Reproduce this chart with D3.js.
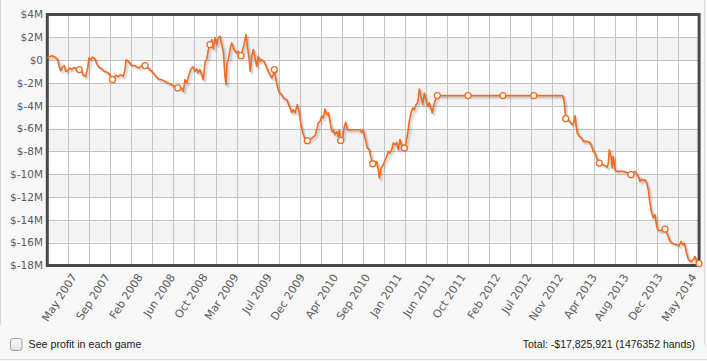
<!DOCTYPE html>
<html><head><meta charset="utf-8">
<script src="https://cdn.jsdelivr.net/npm/d3@7/dist/d3.min.js"></script>
<style>
html,body{margin:0;padding:0;background:#f7f7f7;}
svg{display:block;}
</style></head>
<body><svg id="c" width="707" height="361"></svg>
<script>
// cumulative profit ($M) vs hands played (thousands)
const hands = [0,10.0,17.4,23.6,26.5,30.4,34.0,38.5,41.7,46.2,51.4,55.3,61.2,66.6,72.5,77.9,81.5,87.0,91.5,94.5,98.3,101.9,108.0,111.9,117.1,123.2,129.1,134.5,139.8,142.7,147.6,151.1,156.3,160.8,166.3,172.1,176.0,178.3,183.5,191.2,198.6,206.1,213.8,217.4,221.4,228.8,236.5,243.9,251.4,259.1,266.6,281.8,295.3,304.4,308.0,311.9,315.7,320.9,325.5,330.7,334.5,338.4,342.0,345.9,349.7,353.3,357.2,361.0,364.7,368.5,372.4,376.0,379.8,383.7,387.3,391.2,395.0,398.6,402.5,404.8,407.0,410.0,413.8,417.7,421.3,425.1,429.0,432.6,438.7,441.7,445.5,450.1,453.0,456.9,459.8,463.0,466.6,470.4,474.3,477.9,481.8,485.6,490.8,496.9,502.1,508.3,511.9,514.2,517.3,521.0,525.5,530.9,534.5,542.2,548.1,553.6,557.2,561.0,566.3,570.1,573.9,578.5,583.7,588.9,595.0,601.1,606.3,610.2,613.8,617.7,621.5,625.1,629.0,632.8,636.5,640.3,644.2,647.8,651.6,655.5,659.1,661.4,664.5,669.1,672.7,675.9,679.5,689.5,708.3,712.1,715.7,719.6,724.8,729.3,732.5,737.0,742.2,746.1,749.7,752.0,755.8,761.0,767.2,772.4,776.2,780.1,783.7,787.6,791.4,795.0,798.9,802.7,808.6,812.5,816.3,819.9,823.8,827.6,831.3,835.1,839.0,842.6,846.4,850.3,853.9,857.7,861.6,865.2,872.0,876.6,883.4,953.0,1032.0,1102.0,1167.4,1171.0,1174.2,1180.1,1185.5,1189.1,1193.0,1195.3,1197.5,1200.5,1205.0,1210.4,1214.0,1221.7,1229.2,1233.1,1236.7,1240.5,1244.4,1250.3,1255.7,1263.2,1268.4,1270.7,1273.0,1276.8,1279.7,1282.0,1285.9,1289.7,1304.7,1316.0,1322.1,1327.3,1331.2,1335.0,1338.6,1342.5,1346.3,1349.9,1353.8,1357.6,1361.3,1365.1,1369.0,1372.6,1376.4,1380.3,1383.9,1391.6,1399.1,1402.9,1406.6,1410.4,1417.9,1425.6,1431.5,1435.3,1439.2,1442.8,1448.2,1451.9,1457.3,1463.2,1467.1,1470.9,1476.352];
const profitM = [0.2,0.39,0.28,0.04,-0.46,-0.92,-0.63,-0.48,-0.98,-0.92,-0.68,-0.83,-0.63,-0.81,-0.83,-0.98,-1.33,-1.42,-0.68,0.19,0.04,0.25,0.13,-0.33,-0.63,-0.75,-0.98,-1.04,-1.16,-1.42,-1.71,-1.51,-1.33,-1.45,-1.27,-1.42,-0.83,0.04,-0.11,-0.46,-0.48,-0.68,-0.54,-0.33,-0.48,-0.68,-0.98,-1.33,-1.65,-1.71,-1.86,-2.15,-2.44,-2.44,-2.74,-1.71,-2.0,-1.27,-0.77,-0.60,-0.98,-0.77,-1.12,-0.83,-1.27,-1.71,-0.19,0.04,0.92,1.36,1.80,0.98,1.95,1.36,1.95,2.09,1.36,0.77,-1.42,-2.15,-0.25,0.04,0.92,1.51,1.07,0.77,0.63,0.77,0.39,0.77,1.36,2.24,1.21,0.19,-0.98,0.33,0.92,0.19,-0.54,0.33,-0.11,0.04,-0.11,-0.68,-1.12,-1.56,-1.27,-0.83,-1.56,-2.30,-2.88,-3.03,-3.32,-3.46,-4.05,-4.58,-4.34,-4.63,-3.90,-4.49,-5.51,-6.39,-6.91,-7.06,-6.97,-6.77,-6.62,-6.10,-5.51,-5.37,-4.87,-5.07,-4.28,-4.78,-4.63,-5.37,-6.25,-6.10,-6.54,-6.25,-6.68,-6.10,-7.04,-6.82,-5.81,-5.46,-6.10,-6.10,-6.10,-6.33,-6.10,-6.82,-7.70,-7.85,-8.44,-9.08,-9.02,-8.88,-9.61,-10.33,-9.46,-9.17,-8.58,-8.0,-8.14,-7.85,-7.26,-7.41,-7.21,-7.85,-6.97,-7.50,-7.70,-7.26,-6.39,-5.37,-4.63,-4.19,-4.34,-3.90,-3.75,-2.53,-3.18,-3.90,-2.88,-3.46,-4.05,-3.75,-4.63,-3.75,-3.11,-3.11,-3.11,-3.11,-3.11,-3.75,-5.13,-5.22,-5.46,-5.66,-5.46,-4.87,-5.66,-6.39,-6.68,-6.82,-7.12,-7.12,-7.21,-7.56,-8.0,-8.14,-8.58,-9.02,-9.11,-9.25,-9.37,-9.02,-7.85,-8.44,-9.46,-8.44,-9.61,-9.75,-9.75,-9.89,-10.04,-9.84,-9.75,-9.96,-10.19,-10.63,-10.42,-10.54,-10.48,-10.77,-11.36,-12.53,-13.40,-13.84,-13.55,-14.58,-14.93,-14.93,-14.81,-15.16,-15.46,-15.89,-16.10,-16.18,-16.27,-15.89,-16.18,-16.04,-16.91,-17.46,-17.65,-17.50,-17.21,-17.65,-17.83];
// dated checkpoints (markers) and their labels
const markerHands = [72.5,147.6,221.4,295.3,368.5,438.7,514.2,588.9,664.5,737.0,808.6,883.4,953.0,1032.0,1102.0,1174.2,1250.3,1322.1,1399.1,1476.352];
const markerProfit = [-0.83,-1.71,-0.48,-2.44,1.36,0.39,-0.83,-7.06,-7.04,-9.08,-7.70,-3.11,-3.11,-3.11,-3.11,-5.13,-9.02,-10.04,-14.81,-17.83];
const xLabels = ["May 2007","Sep 2007","Feb 2008","Jun 2008","Oct 2008","Mar 2009","Jul 2009","Dec 2009","Apr 2010","Sep 2010","Jan 2011","Jun 2011","Oct 2011","Feb 2012","Jul 2012","Nov 2012","Apr 2013","Aug 2013","Dec 2013","May 2014"];
const yTicks = [4,2,0,-2,-4,-6,-8,-10,-12,-14,-16,-18];
const totalHands = 1476.352;
const totalText = "Total: -$17,825,921 (1476352 hands)";
const checkboxText = "See profit in each game";

const svg = d3.select("#c");
const L = 47.3, R = 699.1, T = 14.5, B = 265.5;
const x = d3.scaleLinear().domain([0, totalHands]).range([L, R]);
const y = d3.scaleLinear().domain([-18, 4]).range([B, T]);

// page borders
svg.append("line").attr("x1",0.5).attr("x2",0.5).attr("y1",0).attr("y2",325).attr("stroke","#d8d8d8");
svg.append("line").attr("x1",704.5).attr("x2",704.5).attr("y1",0).attr("y2",345).attr("stroke","#d8d8d8");
svg.append("line").attr("x1",0).attr("x2",707).attr("y1",359.5).attr("y2",359.5).attr("stroke","#dedede");

// bands
const bands = d3.range(yTicks.length - 1);
svg.append("g").selectAll("rect").data(bands).join("rect")
  .attr("x", L).attr("width", R - L)
  .attr("y", i => y(yTicks[i])).attr("height", i => y(yTicks[i+1]) - y(yTicks[i]))
  .attr("fill", i => i % 2 === 0 ? "#ffffff" : "#f3f3f3");

// grid
const g = svg.append("g").attr("stroke", "#c3c3c3").attr("stroke-width", 1);
g.selectAll(".h").data(yTicks.slice(1, -1)).join("line")
  .attr("x1", L).attr("x2", R).attr("y1", d => Math.round(y(d)) + 0.5).attr("y2", d => Math.round(y(d)) + 0.5);
const vg = d3.range(1, 31).map(k => k * totalHands / 31);
g.selectAll(".v").data(vg).join("line")
  .attr("y1", T).attr("y2", B).attr("x1", d => Math.round(x(d)) + 0.5).attr("x2", d => Math.round(x(d)) + 0.5);

// border
svg.append("rect").attr("x", L).attr("y", T).attr("width", R - L).attr("height", B - T)
  .attr("fill", "none").attr("stroke", "#4a4a4a").attr("stroke-width", 3);

// y labels
svg.append("g").selectAll("text").data(yTicks).join("text")
  .attr("x", 43).attr("y", d => y(d)).attr("dy", "0.36em")
  .attr("text-anchor", "end").attr("font-family", "DejaVu Sans").attr("font-size", 10.5)
  .attr("fill", "#5c5c5c")
  .text(d => d === 0 ? "$0" : "$" + d + "M");

// x labels
svg.append("g").selectAll("text").data(xLabels).join("text")
  .attr("transform", (d, i) => `translate(${x(markerHands[i]) - 2},${277}) rotate(-57)`)
  .attr("text-anchor", "end").attr("font-family", "DejaVu Sans").attr("font-size", 11)
  .attr("fill", "#5c5c5c").text(d => d);

// line
const pts = hands.map((h, i) => [h, profitM[i]]);
const line = d3.line().x(d => x(d[0])).y(d => y(d[1]));
[3, 2, 1].forEach(o => {
  svg.append("path").attr("d", line(pts)).attr("fill", "none")
    .attr("stroke", "#000").attr("stroke-opacity", 0.06).attr("stroke-width", 2.5)
    .attr("stroke-linejoin", "round").attr("transform", `translate(${o * 0.8},${o * 0.9})`);
});
svg.append("path").attr("d", line(pts)).attr("fill", "none")
  .attr("stroke", "#f26b23").attr("stroke-width", 1.6).attr("stroke-linejoin", "round");

// markers
svg.append("g").selectAll("circle").data(markerHands).join("circle")
  .attr("cx", d => x(d)).attr("cy", (d, i) => y(markerProfit[i])).attr("r", 3)
  .attr("fill", "#fff").attr("stroke", "#f26b23").attr("stroke-width", 1.3);

// bottom controls
const defs = svg.append("defs");
const gr = defs.append("linearGradient").attr("id", "cb").attr("x1", 0).attr("y1", 0).attr("x2", 0).attr("y2", 1);
gr.append("stop").attr("offset", 0).attr("stop-color", "#fbfbfb");
gr.append("stop").attr("offset", 1).attr("stop-color", "#e2e2e2");
svg.append("rect").attr("x", 10.5).attr("y", 338.5).attr("width", 11.5).attr("height", 12).attr("rx", 2.5)
  .attr("fill", "url(#cb)").attr("stroke", "#a0a0a0");
svg.append("text").attr("x", 28.5).attr("y", 347.5).attr("font-family", "Liberation Sans, Arial")
  .attr("font-size", 10.7).attr("fill", "#1a1a1a").text(checkboxText);
svg.append("text").attr("x", 695).attr("y", 347.5).attr("text-anchor", "end").attr("font-family", "Liberation Sans, Arial")
  .attr("font-size", 10.5).attr("fill", "#1a1a1a").text(totalText);
</script></body></html>
